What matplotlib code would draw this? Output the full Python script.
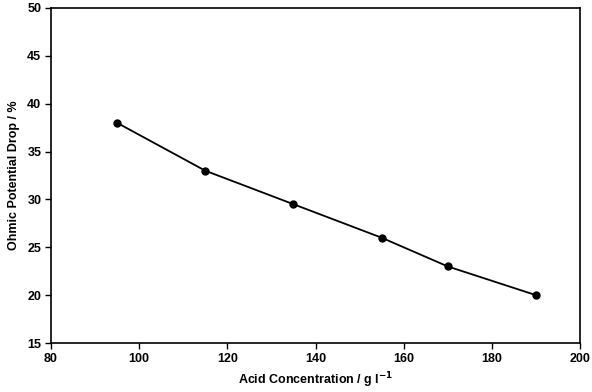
import matplotlib
matplotlib.use("Agg")
import matplotlib.pyplot as plt

# Messwerte
acid_conc = [95, 115, 135, 155, 170, 190]
ohmic_drop = [38, 33, 29.5, 26, 23, 20]

plt.rcParams["font.family"] = ["Liberation Sans", "DejaVu Sans"]
plt.rcParams["font.weight"] = "bold"

fig = plt.figure(figsize=(5.92, 3.92), dpi=100)
ax = fig.add_axes([51 / 592, 1 - 343 / 392, 529 / 592, 335 / 392])

ax.plot(acid_conc, ohmic_drop, color="black", lw=1.3, marker="o", ms=5)

ax.set_xlim(80, 200)
ax.set_ylim(15, 50)
ax.set_xticks(range(80, 201, 20))
ax.set_yticks(range(15, 51, 5))
ax.tick_params(direction="out", length=4, width=1, labelsize=9, pad=3)
for s in ax.spines.values():
    s.set_linewidth(1.2)

ax.set_xlabel("Acid Concentration / g l$^{\\mathbf{-1}}$", fontsize=9, fontweight="bold", labelpad=4)
ax.set_ylabel("Ohmic Potential Drop / %", fontsize=9, fontweight="bold", labelpad=5)

fig.savefig("out.png", dpi=100)
